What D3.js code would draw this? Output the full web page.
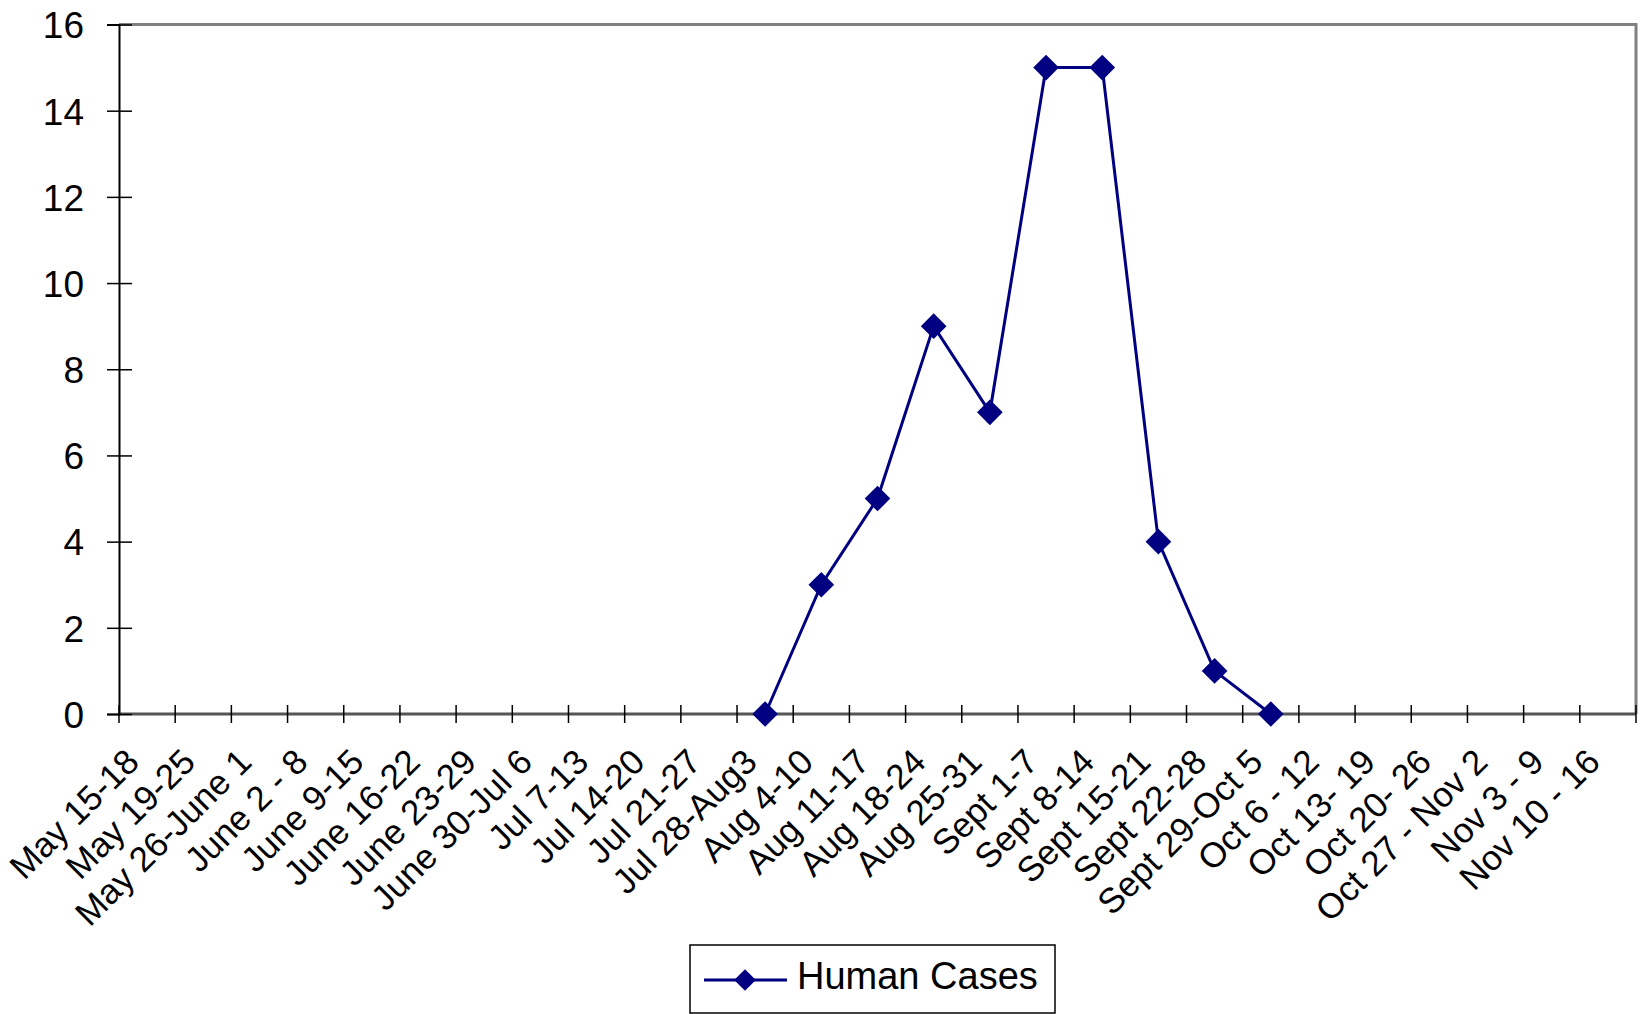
<!DOCTYPE html>
<html lang="en">
<head>
    <meta charset="UTF-8">
    <title>Human Cases</title>
    <script src="https://cdnjs.cloudflare.com/ajax/libs/d3/7.8.5/d3.min.js"></script>
    <style>
        * { margin: 0; padding: 0; box-sizing: border-box; }
        body { background: #fff; font-family: "Liberation Sans", Arial, sans-serif; }
        svg text { fill: #000; }
    </style>
</head>
<body>
    <div id="chart"></div>
    <script>
        const weeks = [
            "May 15-18", "May 19-25", "May 26-June 1", "June 2 - 8", "June 9-15",
            "June 16-22", "June 23-29", "June 30-Jul 6", "Jul 7-13", "Jul 14-20",
            "Jul 21-27", "Jul 28-Aug3", "Aug 4-10", "Aug 11-17", "Aug 18-24",
            "Aug 25-31", "Sept 1-7", "Sept 8-14", "Sept 15-21", "Sept 22-28",
            "Sept 29-Oct 5", "Oct 6 - 12", "Oct 13- 19", "Oct 20- 26",
            "Oct 27 - Nov 2", "Nov 3 - 9", "Nov 10 - 16"
        ];
        // null = no value reported for that week
        const humanCases = [
            null, null, null, null, null, null, null, null, null, null,
            null, 0, 3, 5, 9, 7, 15, 15, 4, 1, 0,
            null, null, null, null, null, null
        ];
        const yTicks = [0, 2, 4, 6, 8, 10, 12, 14, 16];
        const seriesName = "Human Cases";

        const width = 1643, height = 1014;
        const margin = { top: 24.5, right: 7, bottom: 300, left: 119 };
        const navy = "#000080";

        const svg = d3.select("#chart").append("svg")
            .attr("width", width)
            .attr("height", height);

        const x = d3.scaleBand()
            .domain(weeks)
            .range([margin.left, width - margin.right]);

        const y = d3.scaleLinear()
            .domain([0, 16])
            .range([714, margin.top]);

        // top and right frame
        svg.append("path")
            .attr("d", `M${margin.left},${margin.top}H${width - margin.right}V${y(0)}`)
            .attr("fill", "none")
            .attr("stroke", "#808080")
            .attr("stroke-width", 3);

        // x axis: ticks on band boundaries crossing the line
        svg.append("line")
            .attr("x1", margin.left).attr("x2", width - margin.right)
            .attr("y1", y(0)).attr("y2", y(0))
            .attr("stroke", "#555").attr("stroke-width", 3);

        const bounds = weeks.map(w => x(w)).concat([width - margin.right]);
        svg.append("g").selectAll("line")
            .data(bounds)
            .enter().append("line")
            .attr("x1", d => d).attr("x2", d => d)
            .attr("y1", y(0) - 9).attr("y2", y(0) + 9)
            .attr("stroke", "#000").attr("stroke-width", 1.5);

        svg.append("g").selectAll("text")
            .data(weeks)
            .enter().append("text")
            .attr("transform", d => `translate(${x(d) + x.bandwidth() / 2 - 6},${y(0) + 50}) rotate(-45)`)
            .attr("text-anchor", "end")
            .attr("font-size", 35)
            .text(d => d);

        // y axis
        const yAxis = svg.append("g")
            .attr("transform", `translate(${margin.left},0)`)
            .call(d3.axisLeft(y).tickValues(yTicks).tickSize(12).tickPadding(23));
        yAxis.select(".domain").attr("stroke", "#000").attr("stroke-width", 2);
        yAxis.selectAll(".tick line")
            .attr("x2", 13).attr("x1", -12)
            .attr("stroke", "#000").attr("stroke-width", 1.5);
        yAxis.selectAll(".tick text")
            .attr("font-size", 37)
            .attr("font-family", "'Liberation Sans', Arial, sans-serif")
            .attr("dy", "0.36em");

        // series
        const points = weeks.map((w, i) => ({ week: w, value: humanCases[i] }))
            .filter(d => d.value !== null);

        const line = d3.line()
            .x(d => x(d.week) + x.bandwidth() / 2)
            .y(d => y(d.value));

        svg.append("path")
            .datum(points)
            .attr("d", line)
            .attr("fill", "none")
            .attr("stroke", navy)
            .attr("stroke-width", 3);

        const diamond = d3.symbol().type(d3.symbolDiamond2).size(420);
        svg.append("g").selectAll("path")
            .data(points)
            .enter().append("path")
            .attr("d", diamond)
            .attr("transform", d => `translate(${x(d.week) + x.bandwidth() / 2},${y(d.value)})`)
            .attr("fill", navy);

        // legend
        const legend = svg.append("g");
        legend.append("rect")
            .attr("x", 690).attr("y", 945)
            .attr("width", 365).attr("height", 68)
            .attr("fill", "#fff")
            .attr("stroke", "#000").attr("stroke-width", 1.5);
        legend.append("line")
            .attr("x1", 704).attr("x2", 787)
            .attr("y1", 980).attr("y2", 980)
            .attr("stroke", navy).attr("stroke-width", 3);
        legend.append("path")
            .attr("d", d3.symbol().type(d3.symbolDiamond2).size(300))
            .attr("transform", "translate(745,980)")
            .attr("fill", navy);
        legend.append("text")
            .attr("x", 797).attr("y", 975)
            .attr("dy", "0.36em")
            .attr("font-size", 38)
            .text(seriesName);
    </script>
</body>
</html>
